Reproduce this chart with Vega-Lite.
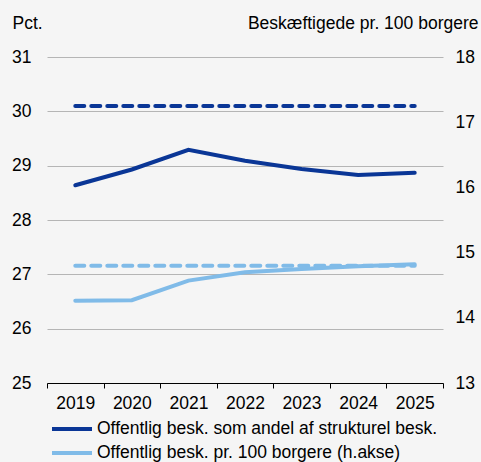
{
  "$schema": "https://vega.github.io/schema/vega-lite/v6.json",
  "width": 396,
  "height": 326,
  "autosize": {"type": "none"},
  "padding": {"left": 47, "top": 57, "right": 38, "bottom": 79},
  "background": "#f5f5f5",
  "config": {
    "view": {"stroke": null},
    "font": "Liberation Sans",
    "axis": {"labelFont": "Liberation Sans", "titleFont": "Liberation Sans", "labelFontSize": 17.5, "titleFontSize": 17.5, "labelColor": "#000000", "titleColor": "#000000", "titleFontWeight": "normal"},
    "legend": {"labelFont": "Liberation Sans", "labelFontSize": 17.5, "labelColor": "#000000"}
  },
  "data": {
    "values": [
      {"year": "2019", "serie": "Offentlig besk. som andel af strukturel besk.", "value": 28.64},
      {"year": "2020", "serie": "Offentlig besk. som andel af strukturel besk.", "value": 28.93},
      {"year": "2021", "serie": "Offentlig besk. som andel af strukturel besk.", "value": 29.29},
      {"year": "2022", "serie": "Offentlig besk. som andel af strukturel besk.", "value": 29.09},
      {"year": "2023", "serie": "Offentlig besk. som andel af strukturel besk.", "value": 28.94},
      {"year": "2024", "serie": "Offentlig besk. som andel af strukturel besk.", "value": 28.83},
      {"year": "2025", "serie": "Offentlig besk. som andel af strukturel besk.", "value": 28.87},
      {"year": "2019", "serie": "andel_gns", "value": 30.1},
      {"year": "2025", "serie": "andel_gns", "value": 30.1},
      {"year": "2019", "serie": "Offentlig besk. pr. 100 borgere (h.akse)", "value": 14.26},
      {"year": "2020", "serie": "Offentlig besk. pr. 100 borgere (h.akse)", "value": 14.27},
      {"year": "2021", "serie": "Offentlig besk. pr. 100 borgere (h.akse)", "value": 14.57},
      {"year": "2022", "serie": "Offentlig besk. pr. 100 borgere (h.akse)", "value": 14.70},
      {"year": "2023", "serie": "Offentlig besk. pr. 100 borgere (h.akse)", "value": 14.75},
      {"year": "2024", "serie": "Offentlig besk. pr. 100 borgere (h.akse)", "value": 14.79},
      {"year": "2025", "serie": "Offentlig besk. pr. 100 borgere (h.akse)", "value": 14.82},
      {"year": "2019", "serie": "borgere_gns", "value": 14.8},
      {"year": "2025", "serie": "borgere_gns", "value": 14.8}
    ]
  },
  "encoding": {
    "x": {
      "field": "year", "type": "ordinal",
      "scale": {"type": "band", "paddingInner": 0, "paddingOuter": 0, "domain": ["2019","2020","2021","2022","2023","2024","2025"]},
      "axis": {"title": null, "labelAngle": 0, "domainColor": "#000000", "tickColor": "#000000", "tickSize": 5, "tickBand": "extent", "labelPadding": 6, "grid": false}
    }
  },
  "layer": [
    {
      "encoding": {
        "y": {
          "field": "value", "type": "quantitative",
          "scale": {"domain": [25, 31], "nice": false, "zero": false},
          "axis": {"title": "Pct.", "titleAngle": 0, "titleAlign": "left", "titleBaseline": "alphabetic", "titleX": -35, "titleY": -29, "values": [25,26,27,28,29,30,31], "grid": true, "gridColor": "#b5b5b5", "gridWidth": 1, "domain": false, "ticks": false, "labelPadding": 16}
        }
      },
      "layer": [
        {
          "transform": [{"filter": "datum.serie === 'andel_gns'"}],
          "mark": {"type": "line", "color": "#0a3696", "strokeWidth": 4, "strokeDash": [9, 7], "strokeCap": "round"}
        },
        {
          "transform": [{"filter": "datum.serie === 'Offentlig besk. som andel af strukturel besk.'"}],
          "mark": {"type": "line", "strokeWidth": 4, "strokeCap": "round"},
          "encoding": {
            "color": {
              "field": "serie", "type": "nominal",
              "scale": {"domain": ["Offentlig besk. som andel af strukturel besk.", "Offentlig besk. pr. 100 borgere (h.akse)"], "range": ["#0a3696", "#80bbe8"]},
              "legend": {"title": null, "orient": "none", "legendX": 3, "legendY": 362, "direction": "vertical", "symbolType": "stroke", "symbolSize": 1600, "symbolStrokeWidth": 4, "clipHeight": 20, "rowPadding": 4, "labelOffset": 3, "labelLimit": 450}
            }
          }
        }
      ]
    },
    {
      "encoding": {
        "y": {
          "field": "value", "type": "quantitative",
          "scale": {"domain": [13, 18], "nice": false, "zero": false},
          "axis": {"orient": "right", "title": "Beskæftigede pr. 100 borgere", "titleAngle": 0, "titleAlign": "right", "titleBaseline": "alphabetic", "titleX": 35, "titleY": -29, "values": [13,14,15,16,17,18], "grid": false, "domain": false, "ticks": false, "labelPadding": 12}
        }
      },
      "layer": [
        {
          "transform": [{"filter": "datum.serie === 'borgere_gns'"}],
          "mark": {"type": "line", "color": "#80bbe8", "strokeWidth": 4, "strokeDash": [9, 7], "strokeCap": "round"}
        },
        {
          "transform": [{"filter": "datum.serie === 'Offentlig besk. pr. 100 borgere (h.akse)'"}],
          "mark": {"type": "line", "strokeWidth": 4, "strokeCap": "round"},
          "encoding": {
            "color": {"field": "serie", "type": "nominal"}
          }
        }
      ]
    }
  ],
  "resolve": {"scale": {"y": "independent"}}
}
